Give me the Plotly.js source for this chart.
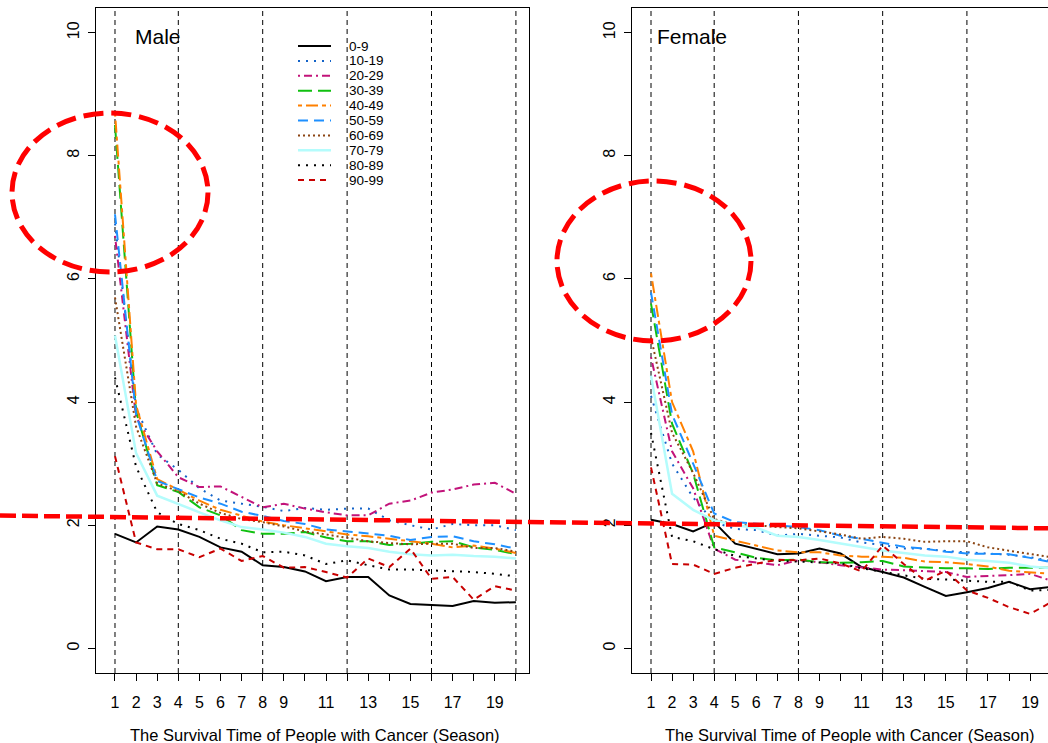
<!DOCTYPE html>
<html>
<head>
<meta charset="utf-8">
<script src="https://cdn.plot.ly/plotly-3.0.1.min.js"></script>
<style>html,body{margin:0;padding:0;background:#fff;}#chart{width:1048px;height:743px;}</style>
</head>
<body>
<div id="chart"></div>
<script>
// ---- data ----
var seasons = [1,2,3,4,5,6,7,8,9,10,11,12,13,14,15,16,17,18,19,20];
var ageGroups = ["0-9","10-19","20-29","30-39","40-49","50-59","60-69","70-79","80-89","90-99"];
var xTickLabels = ["1","2","3","4","5","6","7","8","9","","11","","13","","15","","17","","19",""];
var yTickVals = [0,2,4,6,8,10];
var periodLines = [1,4,8,12,16,20];

var male_0_9   = [1.86,1.72,1.98,1.93,1.81,1.64,1.57,1.35,1.32,1.25,1.09,1.16,1.16,0.86,0.72,0.71,0.69,0.77,0.74,0.75];
var male_10_19 = [6.90,3.90,3.15,2.90,2.60,2.40,2.35,2.30,2.23,2.28,2.25,2.27,2.27,2.08,2.00,1.93,2.02,2.00,2.00,1.92];
var male_20_29 = [6.70,3.75,3.20,2.78,2.62,2.63,2.46,2.29,2.35,2.27,2.21,2.16,2.16,2.35,2.40,2.53,2.58,2.66,2.69,2.51];
var male_30_39 = [8.50,3.85,2.65,2.54,2.29,2.16,1.92,1.86,1.86,1.89,1.80,1.74,1.74,1.68,1.70,1.73,1.74,1.64,1.60,1.53];
var male_40_49 = [8.70,3.95,2.75,2.57,2.40,2.25,2.15,2.06,2.00,1.95,1.90,1.85,1.82,1.78,1.73,1.70,1.64,1.67,1.62,1.55];
var male_50_59 = [7.05,3.80,2.72,2.58,2.45,2.35,2.22,2.15,2.07,2.02,1.93,1.90,1.87,1.83,1.76,1.81,1.82,1.74,1.69,1.62];
var male_60_69 = [5.70,3.60,2.68,2.55,2.35,2.20,2.10,2.05,1.98,1.90,1.85,1.80,1.74,1.71,1.69,1.70,1.70,1.63,1.63,1.57];
var male_70_79 = [5.08,3.17,2.48,2.34,2.21,2.08,1.97,1.93,1.88,1.81,1.70,1.66,1.63,1.57,1.53,1.51,1.52,1.50,1.49,1.46];
var male_80_89 = [4.40,2.95,2.21,2.02,1.92,1.78,1.70,1.56,1.57,1.51,1.37,1.43,1.35,1.28,1.28,1.27,1.26,1.24,1.21,1.17];
var male_90_99 = [3.12,1.72,1.61,1.61,1.48,1.62,1.42,1.50,1.31,1.32,1.24,1.15,1.46,1.32,1.62,1.13,1.16,0.79,1.01,0.94];

var female_0_9   = [2.09,2.02,1.90,2.05,1.70,1.62,1.53,1.54,1.62,1.54,1.32,1.24,1.15,1.00,0.85,0.91,0.98,1.08,0.96,1.00];
var female_10_19 = [4.10,3.00,2.45,2.05,1.94,1.92,1.83,1.86,1.83,1.80,1.72,1.68,1.62,1.62,1.58,1.56,1.55,1.52,1.48,1.42];
var female_20_29 = [4.73,3.20,2.60,1.62,1.44,1.39,1.35,1.43,1.40,1.35,1.31,1.28,1.27,1.26,1.24,1.16,1.17,1.19,1.21,1.10];
var female_30_39 = [5.60,3.65,2.84,1.64,1.56,1.47,1.43,1.44,1.40,1.39,1.40,1.42,1.33,1.31,1.30,1.30,1.29,1.31,1.31,1.31];
var female_40_49 = [6.09,4.00,3.20,1.83,1.75,1.67,1.59,1.56,1.56,1.51,1.49,1.49,1.47,1.41,1.40,1.37,1.33,1.26,1.24,1.21];
var female_50_59 = [5.78,3.80,3.00,2.19,2.05,2.02,2.00,1.97,1.92,1.83,1.78,1.71,1.65,1.62,1.57,1.54,1.54,1.53,1.47,1.40];
var female_60_69 = [5.05,3.50,2.85,2.10,2.00,2.00,1.97,1.95,1.90,1.85,1.78,1.81,1.78,1.73,1.74,1.74,1.64,1.59,1.54,1.48];
var female_70_79 = [4.43,2.51,2.25,2.08,2.00,1.96,1.83,1.81,1.76,1.70,1.65,1.59,1.55,1.51,1.49,1.44,1.42,1.39,1.33,1.30];
var female_80_89 = [3.50,1.81,1.74,1.61,1.50,1.46,1.42,1.41,1.40,1.38,1.30,1.24,1.18,1.13,1.12,1.10,1.08,1.08,0.94,0.95];
var female_90_99 = [2.94,1.37,1.36,1.21,1.31,1.37,1.44,1.43,1.46,1.38,1.25,1.67,1.37,1.10,1.26,0.94,0.82,0.67,0.56,0.75];

var maleSeries = [male_0_9,male_10_19,male_20_29,male_30_39,male_40_49,male_50_59,male_60_69,male_70_79,male_80_89,male_90_99];
var femaleSeries = [female_0_9,female_10_19,female_20_29,female_30_39,female_40_49,female_50_59,female_60_69,female_70_79,female_80_89,female_90_99];

// ---- styles ----
var colors = ["#000000","#1363c8","#c2137a","#10c010","#ff8000","#1e90ff","#8b4513","#b4fcfc","#000000","#c80000"];
var dashes = ["solid","2px,6px","2px,4px,8px,4px","14px,6px","4px,4px,12px,4px","10px,6px","2px,3px","solid","2px,6px","6px,5px"];
var widths = [2,2,2,2,2,2,2,2.5,2,2];

var W = 1048, H = 743;
function px(x){return x/W;}
function py(y){return 1 - y/H;}
var FONT = "Liberation Sans, Arial, Helvetica, sans-serif";

var traces = [];
function addPanel(series, xa, ya){
  for (var i=0;i<series.length;i++){
    traces.push({
      x: seasons, y: series[i], xaxis: xa, yaxis: ya,
      type: "scatter", mode: "lines", name: ageGroups[i], showlegend: false,
      line: {color: colors[i], dash: dashes[i], width: widths[i]},
      hoverinfo: "skip"
    });
  }
}
addPanel(maleSeries, "x", "y");
addPanel(femaleSeries, "x2", "y2");

var axX = {
  tickmode: "array", tickvals: seasons, ticktext: xTickLabels,
  ticks: "outside", ticklen: 7, tickcolor: "#000", tickwidth: 1,
  ticklabelstandoff: 8,
  showline: true, linecolor: "#000", linewidth: 1,
  showgrid: false, zeroline: false,
  tickfont: {family: FONT, size: 16, color: "#000"},
  fixedrange: true
};
var axY = {
  range: [-0.4, 10.4], tickmode: "array", tickvals: yTickVals,
  ticks: "outside", ticklen: 7, tickcolor: "#000", tickwidth: 1,
  ticklabelstandoff: 3,
  showline: true, linecolor: "#000", linewidth: 1,
  showgrid: false, zeroline: false, tickangle: -90,
  tickfont: {family: FONT, size: 16, color: "#000"},
  domain: [70/H, 735/H], fixedrange: true
};

var layout = {
  width: W, height: H,
  margin: {l:0, r:0, t:0, b:0},
  paper_bgcolor: "#fff", plot_bgcolor: "#fff",
  showlegend: false,
  xaxis: Object.assign({}, axX, {domain: [96/W, 529/W], range: [0.1, 20.62], mirror: true, anchor: "y"}),
  yaxis: Object.assign({}, axY, {mirror: true, anchor: "x"}),
  xaxis2: Object.assign({}, axX, {domain: [632/W, 1], range: [0.098, 19.85], mirror: true, anchor: "y2"}),
  yaxis2: Object.assign({}, axY, {mirror: false, anchor: "x2"}),
  shapes: [], annotations: []
};

// vertical dashed period lines
periodLines.forEach(function(v){
  layout.shapes.push({type:"line", xref:"x", yref:"y domain", x0:v, x1:v, y0:0, y1:1,
    line:{color:"#000", width:1, dash:"5px,4px"}, layer:"below"});
  layout.shapes.push({type:"line", xref:"x2", yref:"y2 domain", x0:v, x1:v, y0:0, y1:1,
    line:{color:"#000", width:1, dash:"5px,4px"}, layer:"below"});
});

// legend (manual, R-style, no box)
var legTop = 46, legStep = 14.9;
for (var i=0;i<ageGroups.length;i++){
  var yy = legTop + i*legStep;
  layout.shapes.push({type:"line", xref:"paper", yref:"paper",
    x0:px(298), x1:px(331), y0:py(yy), y1:py(yy),
    line:{color:colors[i], width:widths[i], dash:dashes[i]}});
  layout.annotations.push({xref:"paper", yref:"paper", x:px(347), y:py(yy),
    xanchor:"left", yanchor:"middle", showarrow:false, text:ageGroups[i],
    font:{family:FONT, size:13.5, color:"#000"}});
}

// panel labels
layout.annotations.push({xref:"paper", yref:"paper", x:px(133), y:py(36), xanchor:"left", yanchor:"middle",
  showarrow:false, text:"Male", font:{family:FONT, size:21, color:"#000"}});
layout.annotations.push({xref:"paper", yref:"paper", x:px(655), y:py(36), xanchor:"left", yanchor:"middle",
  showarrow:false, text:"Female", font:{family:FONT, size:21, color:"#000"}});

// axis titles
var xTitle = "The Survival Time of People with Cancer (Season)";
layout.annotations.push({xref:"paper", yref:"paper", x:px(315), y:py(735), xanchor:"center", yanchor:"middle",
  showarrow:false, text:xTitle, font:{family:FONT, size:16.5, color:"#000"}});
layout.annotations.push({xref:"paper", yref:"paper", x:px(850), y:py(735), xanchor:"center", yanchor:"middle",
  showarrow:false, text:xTitle, font:{family:FONT, size:16.5, color:"#000"}});

// red highlight marks
var redLine = {color:"#ff0000", width:5, dash:"20px,8px"};
layout.shapes.push({type:"circle", xref:"paper", yref:"paper", x0:px(12), x1:px(208), y0:py(113), y1:py(272), line:redLine, layer:"above"});
layout.shapes.push({type:"circle", xref:"paper", yref:"paper", x0:px(557), x1:px(751), y0:py(181), y1:py(341), line:redLine, layer:"above"});
layout.shapes.push({type:"line", xref:"paper", yref:"paper", x0:0, x1:1, y0:py(515.6), y1:py(528.3),
  line:{color:"#ff0000", width:4.5, dash:"16px,6px"}, layer:"above"});

Plotly.newPlot("chart", traces, layout, {displayModeBar:false, staticPlot:true});
</script>
</body>
</html>
